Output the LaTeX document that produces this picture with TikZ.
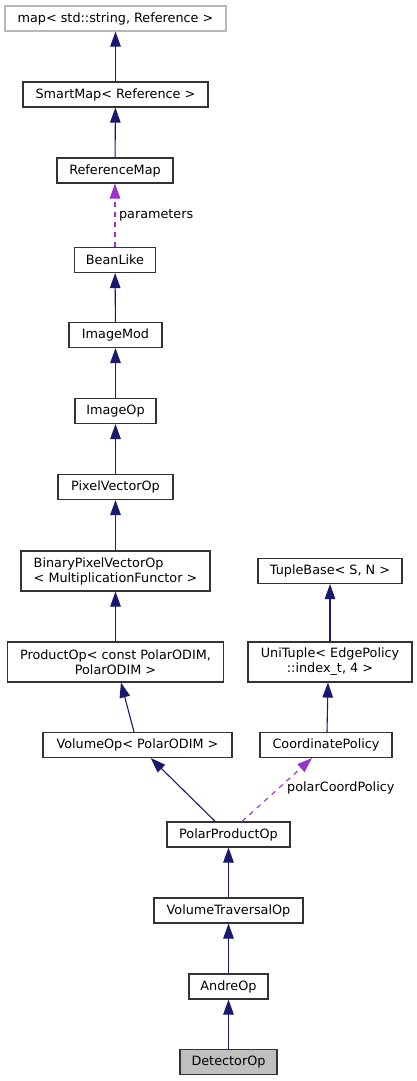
\documentclass[tikz,border=0pt]{standalone}
\usepackage{fontspec}
\setmainfont{DejaVu Sans}
\usetikzlibrary{arrows.meta,calc}
\definecolor{inh}{HTML}{191970}
\definecolor{usg}{HTML}{9A32CD}
\definecolor{bord}{HTML}{333333}
\begin{document}
\begin{tikzpicture}[x=1pt,y=-1pt,
  cls/.style={draw=bord,line width=1.1pt,fill=white,inner sep=0pt,minimum height=25pt,
    font=\fontsize{12.8}{15}\selectfont,text=black},
  inhe/.style={draw=inh,line width=1.1pt,-{Triangle[length=15pt,width=10.5pt]}},
  usee/.style={draw=usg,line width=1.1pt,dash pattern=on 5pt off 5pt,-{Triangle[length=15pt,width=10.5pt]}},
  lbl/.style={font=\fontsize{12.8}{15}\selectfont,text=black,inner sep=0pt}]
\useasboundingbox (0,0) rectangle (417,1081);
\node[cls,draw=black!28,minimum width=221pt] (map) at (115.5,18.5) {map< std::string, Reference >};
\node[cls,minimum width=185pt] (smart) at (115.5,94.5) {SmartMap< Reference >};
\node[cls,minimum width=116pt] (refmap) at (115,170.5) {ReferenceMap};
\node[cls,minimum width=81pt] (bean) at (115,260) {BeanLike};
\node[cls,minimum width=93pt] (imod) at (115.5,335) {ImageMod};
\node[cls,minimum width=81pt] (iop) at (115.5,411) {ImageOp};
\node[cls,minimum width=115pt] (pvo) at (115.5,487) {PixelVectorOp};
\node[cls,minimum width=189pt,minimum height=40pt,align=left] (bpvo) at (115.5,571) {BinaryPixelVectorOp\\< MultiplicationFunctor >};
\node[cls,minimum width=216pt,minimum height=40pt,align=center] (prod) at (115.5,662) {ProductOp< const PolarODIM,\\PolarODIM >};
\node[cls,minimum width=189pt] (volop) at (137.5,745) {VolumeOp< PolarODIM >};
\node[cls,minimum width=144pt] (tuple) at (330,571) {TupleBase< S, N >};
\node[cls,minimum width=164pt,minimum height=40pt,align=center] (uni) at (330,662) {UniTuple< EdgePolicy\\::index\_t, 4 >};
\node[cls,minimum width=132pt] (coord) at (326,745) {CoordinatePolicy};
\node[cls,minimum width=123pt] (ppo) at (228.5,834.5) {PolarProductOp};
\node[cls,minimum width=149pt] (vto) at (228.5,910.5) {VolumeTraversalOp};
\node[cls,minimum width=79pt] (andre) at (228.5,986.5) {AndreOp};
\node[cls,minimum width=97pt,fill=black!25] (det) at (228.5,1062) {DetectorOp};

\draw[inhe] (smart) -- (map);
\draw[inhe] (refmap) -- (smart);
\draw[usee] (bean) -- (refmap) node[lbl,pos=0.5,anchor=west,xshift=3.5pt] {parameters};
\draw[inhe] (imod) -- (bean);
\draw[inhe] (iop) -- (imod);
\draw[inhe] (pvo) -- (iop);
\draw[inhe] (bpvo) -- (pvo);
\draw[inhe] (prod) -- (bpvo);
\draw[inhe] (volop) -- (prod);
\draw[inhe] (uni) -- (tuple);
\draw[inhe] ($(coord.north)+(1,0)$) -- ($(uni.south)+(-2,0)$);
\draw[inhe] (ppo) -- (volop);
\draw[usee] ($(ppo.north)+(13.5,0)$) -- ($(coord.south)+(-14,0)$);
\node[lbl,anchor=west] (pcp) at (287,788) {polarCoordPolicy};
\draw[inhe] (vto) -- (ppo);
\draw[inhe] (andre) -- (vto);
\draw[inhe] (det) -- (andre);
\end{tikzpicture}
\end{document}
